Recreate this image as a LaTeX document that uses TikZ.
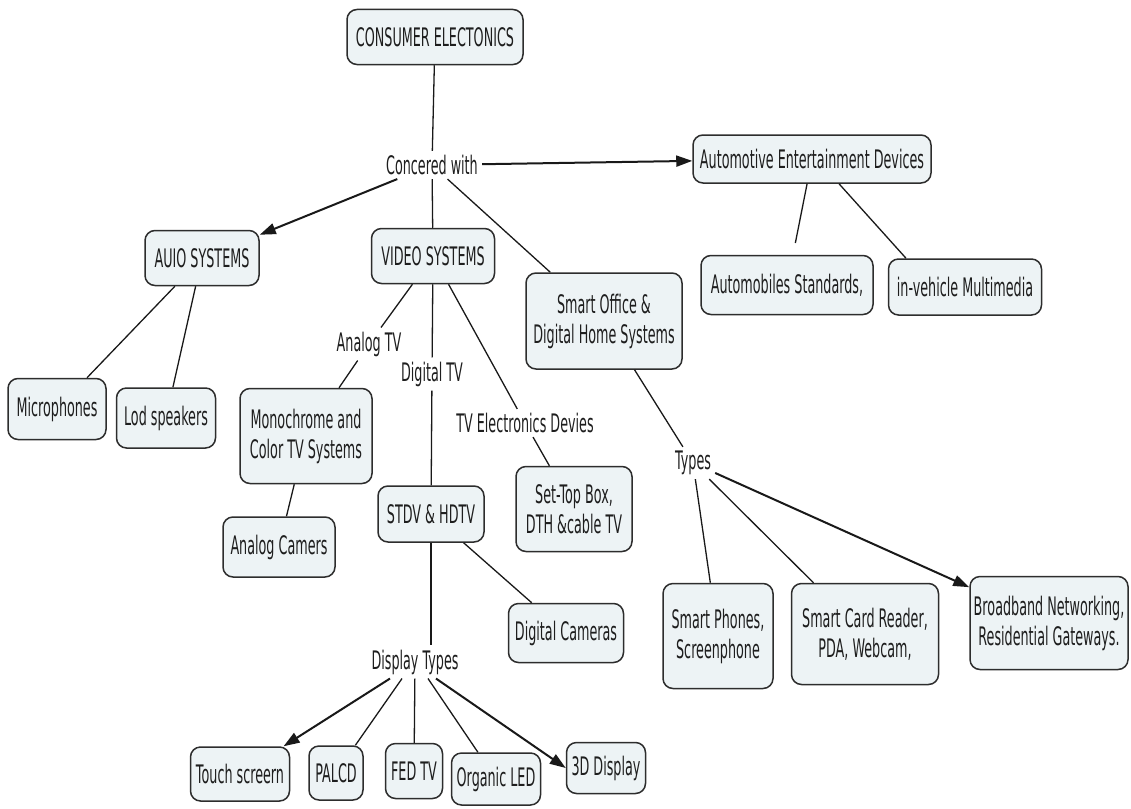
\documentclass[tikz,border=0pt]{standalone}
\usepackage{fontspec}
\setmainfont{DejaVu Sans}[FakeStretch=0.5]
\usetikzlibrary{arrows.meta}
\definecolor{boxfill}{RGB}{237,243,245}
\definecolor{boxline}{RGB}{45,45,45}
\definecolor{txt}{RGB}{30,30,30}
\definecolor{lineclr}{RGB}{25,25,25}
\begin{document}
\begin{tikzpicture}[x=1pt,y=-1pt,
  box/.style={draw=boxline, fill=boxfill, rounded corners=10pt, line width=1.5pt,
    align=center, inner sep=0pt, text=txt, font=\fontsize{25.5}{30}\selectfont},
  lbl/.style={align=center, inner sep=4pt, text=txt, font=\fontsize{25.5}{30}\selectfont},
  con/.style={line width=1.3pt, draw=lineclr},
  arr/.style={line width=2pt, draw=lineclr, -{Triangle[length=16pt,width=11pt]}}]
\useasboundingbox (0,0) rectangle (1131,808);

% boxes
\node[box, minimum width=176pt, minimum height=55pt] (ce) at (435,37) {CONSUMER ELECTONICS};
\node[box, minimum width=238pt, minimum height=48pt] (auto) at (812,159) {Automotive Entertainment Devices};
\node[box, minimum width=114pt, minimum height=55pt] (audio) at (202,258) {AUIO SYSTEMS};
\node[box, minimum width=123pt, minimum height=55pt] (video) at (433,256) {VIDEO SYSTEMS};
\node[box, minimum width=156pt, minimum height=96pt] (smart) at (604,321) {Smart Office \&\\Digital Home Systems};
\node[box, minimum width=172pt, minimum height=59pt] (autostd) at (787,285) {Automobiles Standards,};
\node[box, minimum width=153pt, minimum height=56pt] (inveh) at (965,287) {in-vehicle Multimedia};
\node[box, minimum width=98pt, minimum height=61pt] (mic) at (57,409) {Microphones};
\node[box, minimum width=99pt, minimum height=60pt] (lod) at (166,418) {Lod speakers};
\node[box, minimum width=132pt, minimum height=95pt] (mono) at (306,436) {Monochrome and\\Color TV Systems};
\node[box, minimum width=112pt, minimum height=60pt] (acam) at (279,547) {Analog Camers};
\node[box, minimum width=106pt, minimum height=56pt] (stdv) at (431,514) {STDV \& HDTV};
\node[box, minimum width=116pt, minimum height=85pt] (stb) at (574,509) {Set-Top Box,\\DTH \&cable TV};
\node[box, minimum width=115pt, minimum height=59pt] (dcam) at (566,633) {Digital Cameras};
\node[box, minimum width=99pt, minimum height=54pt] (touch) at (240,774) {Touch screern};
\node[box, minimum width=54pt, minimum height=54pt] (palcd) at (336,773) {PALCD};
\node[box, minimum width=57pt, minimum height=55pt] (fed) at (414,771) {FED TV};
\node[box, minimum width=89pt, minimum height=52pt] (oled) at (496,779) {Organic LED};
\node[box, minimum width=79pt, minimum height=51pt] (d3) at (606,768) {3D Display};
\node[box, minimum width=110pt, minimum height=105pt] (phone) at (718,636) {Smart Phones,\\Screenphone};
\node[box, minimum width=147pt, minimum height=101pt] (card) at (865,634) {Smart Card Reader,\\PDA, Webcam,};
\node[box, minimum width=158pt, minimum height=93pt] (bb) at (1049,623) {Broadband Networking,\\Residential Gateways.};

% labels
\node[lbl] (cw) at (432,165) {Concered with};
\node[lbl] (atv) at (369,344) {Analog TV};
\node[lbl] (dtv) at (432,374) {Digital TV};
\node[lbl] (tve) at (525,423) {TV Electronics Devies};
\node[lbl] (dt) at (415,662) {Display Types};
\node[lbl] (types) at (693,463) {Types};

% connectors
\draw[con] (ce) -- (cw);
\draw[arr] (cw) -- (auto);
\draw[arr] (cw) -- (audio);
\draw[con] (cw) -- (video);
\draw[con] (cw) -- (smart);
\draw[con, shorten >=12pt] (auto) -- (autostd);
\draw[con] ([xshift=27pt]auto.south) -- ([xshift=-59pt]inveh.north);
\draw[con] (audio) -- (mic);
\draw[con] (audio) -- (lod);
\draw[con] (video) -- (atv);
\draw[con] (atv) -- (mono);
\draw[con] (video) -- (dtv);
\draw[con] (dtv) -- (stdv);
\draw[con] (video) -- (tve);
\draw[con] (tve) -- (stb);
\draw[con] (mono) -- (acam);
\draw[con] (stdv) -- (dcam);
\draw[con] (stdv.south) -- (stdv.south |- dt.north);
\draw[arr] ([xshift=-25pt]dt.south) -- (touch);
\draw[con] ([xshift=-13pt]dt.south) -- (palcd);
\draw[con] (dt) -- (fed);
\draw[con] ([xshift=13pt]dt.south) -- (oled);
\draw[arr] ([xshift=21pt]dt.south) -- (d3.west);
\draw[con] (smart) -- (types);
\draw[con] (types) -- (phone);
\draw[con] (types) -- (card);
\draw[arr] (types) -- (bb);
\end{tikzpicture}
\end{document}
